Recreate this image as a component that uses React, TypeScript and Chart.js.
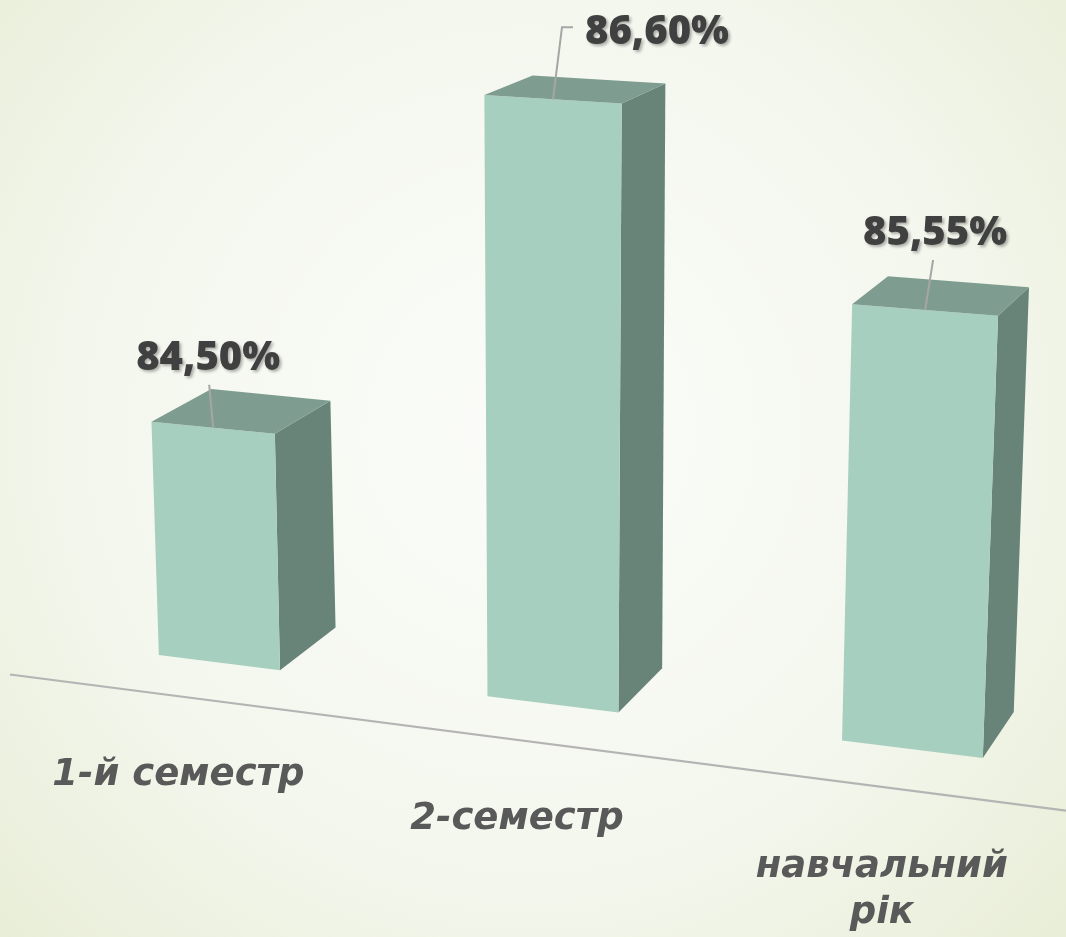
import React, { useEffect, useRef } from "react";
import { Chart, registerables } from "chart.js";

Chart.register(...registerables);

// ---- data ----
const categories: (string | string[])[] = ["1-й семестр", "2-семестр", ["навчальний", "рік"]];
const values: number[] = [84.5, 86.6, 85.55];
const valueLabels: string[] = ["84,50%", "86,60%", "85,55%"];
const Y_MIN = 83.09;
const Y_MAX = 88.526;

// ---- layout / style ----
const W = 1066;
const H = 937;
const FRONT = "#a7cfbf";
const SIDE = "#688478";
const TOP = "#7e9d90";
// label offset relative to the front-top-centre of each bar
const labelOffsets: [number, number][] = [
  [-5, -69],
  [104, -67],
  [10, -76],
];

// pseudo-perspective projection parameters
const PR = {
  X0: 32.75,
  SPAN: 1039.5,
  CX: 552.5,
  Q: 1.08e-4,
  HS: 1e-4,
  LEAN: 8e-5,
  BASE_Y: 655,
  BASE_X: 158,
  SLOPE: 0.125,
  DX0: 46,
  DXK: 0.035,
  DY0: -44,
  DYK: 0.005,
  DYH: 0.04,
};

function project(xf: number, h0: number, depth: number): [number, number] {
  const u = xf + PR.Q * (xf - PR.CX) * (xf - PR.CX);
  const h = h0 * (1 + PR.HS * (u - PR.CX));
  let x = u + h * PR.LEAN * (u - PR.CX);
  let y = PR.BASE_Y + PR.SLOPE * (u - PR.BASE_X) - h;
  if (depth) {
    x += PR.DX0 - PR.DXK * (u - PR.CX);
    y += PR.DY0 - PR.DYK * (u - PR.CX) + PR.DYH * h;
  }
  return [x, y];
}

function floorY(u: number) {
  return PR.BASE_Y + PR.SLOPE * (u - PR.BASE_X) + 38 + 0.004 * (u - 10);
}

function poly(ctx: CanvasRenderingContext2D, pts: [number, number][], color: string) {
  ctx.beginPath();
  ctx.moveTo(pts[0][0], pts[0][1]);
  for (let i = 1; i < pts.length; i++) ctx.lineTo(pts[i][0], pts[i][1]);
  ctx.closePath();
  ctx.fillStyle = color;
  ctx.fill();
}

const backgroundPlugin = {
  id: "bg",
  beforeDraw(chart: any) {
    const ctx: CanvasRenderingContext2D = chart.ctx;
    ctx.save();
    const g = ctx.createRadialGradient(530, 430, 0, 530, 430, 780);
    g.addColorStop(0, "#fbfcf9");
    g.addColorStop(0.55, "#f4f7ee");
    g.addColorStop(1, "#e7ecd4");
    ctx.fillStyle = g;
    ctx.fillRect(0, 0, chart.width, chart.height);
    // floor front edge
    ctx.strokeStyle = "#b4b4b4";
    ctx.lineWidth = 2.2;
    ctx.beginPath();
    ctx.moveTo(10, floorY(10));
    ctx.lineTo(chart.width, floorY(chart.width));
    ctx.stroke();
    ctx.restore();
  },
};

const bars3dPlugin = {
  id: "bars3d",
  afterDatasetsDraw(chart: any) {
    const ctx: CanvasRenderingContext2D = chart.ctx;
    const area = chart.chartArea;
    const sx = PR.SPAN / (area.right - area.left);
    const sh = H / (area.bottom - area.top);
    const meta = chart.getDatasetMeta(0);
    ctx.save();
    meta.data.forEach((el: any, i: number) => {
      const p = el.getProps(["x", "y", "base", "width"], true);
      const xc = PR.X0 + (p.x - area.left) * sx;
      const hw = (p.width * sx) / 2;
      const h0 = (p.base - p.y) * sh;
      const fl = xc - hw;
      const fr = xc + hw;
      const FBL = project(fl, 0, 0);
      const FBR = project(fr, 0, 0);
      const FTL = project(fl, h0, 0);
      const FTR = project(fr, h0, 0);
      const BTL = project(fl, h0, 1);
      const BTR = project(fr, h0, 1);
      const BBR = project(fr, 0, 1);
      poly(ctx, [FBR, FTR, BTR, BBR], SIDE);
      poly(ctx, [FBL, FBR, FTR, FTL], FRONT);
      poly(ctx, [FTL, FTR, BTR, BTL], TOP);

      // value label + leader line
      const anchor: [number, number] = [(FTL[0] + FTR[0]) / 2, (FTL[1] + FTR[1]) / 2];
      const off = labelOffsets[i];
      const lc: [number, number] = [anchor[0] + off[0], anchor[1] + off[1]];
      ctx.font = "800 40px 'Open Sans'";
      const tw = ctx.measureText(valueLabels[i]).width;
      ctx.strokeStyle = "#a6a6a6";
      ctx.lineWidth = 2;
      ctx.beginPath();
      ctx.moveTo(anchor[0], anchor[1]);
      if (Math.abs(off[0]) > 50) {
        const endX = lc[0] - tw / 2 - 12;
        const endY = lc[1] - 5;
        ctx.lineTo(endX - 11, endY);
        ctx.lineTo(endX, endY);
      } else {
        ctx.lineTo(lc[0] + (anchor[0] - lc[0]) * 0.2, lc[1] + 26);
      }
      ctx.stroke();

      ctx.save();
      ctx.shadowColor = "rgba(0,0,0,0.3)";
      ctx.shadowOffsetX = 2;
      ctx.shadowOffsetY = 2;
      ctx.shadowBlur = 3;
      ctx.fillStyle = "#404040";
      ctx.textAlign = "center";
      ctx.textBaseline = "middle";
      ctx.fillText(valueLabels[i], lc[0], lc[1]);
      ctx.restore();

      // category label
      const bc: [number, number] = [(FBL[0] + FBR[0]) / 2, (FBL[1] + FBR[1]) / 2];
      const lines = Array.isArray(categories[i]) ? (categories[i] as string[]) : [categories[i] as string];
      ctx.font = "italic bold 37px 'DejaVu Sans'";
      ctx.fillStyle = "#595959";
      ctx.textAlign = "center";
      ctx.textBaseline = "alphabetic";
      const cx = bc[0] - 41 + 0.015 * (bc[0] - 219);
      const cy = bc[1] + 122 + 0.008 * (bc[0] - 219);
      lines.forEach((t, j) => ctx.fillText(t, cx, cy + j * 46));
    });
    ctx.restore();
  },
};

export default function App() {
  const ref = useRef<HTMLCanvasElement | null>(null);
  useEffect(() => {
    if (!ref.current) return;
    const chart = new Chart(ref.current, {
      type: "bar",
      data: {
        labels: categories as any,
        datasets: [
          {
            data: values,
            base: Y_MIN,
            backgroundColor: "rgba(0,0,0,0)",
            borderWidth: 0,
            categoryPercentage: 0.378,
            barPercentage: 1,
          } as any,
        ],
      },
      options: {
        animation: false,
        responsive: false,
        maintainAspectRatio: false,
        layout: { padding: 0 },
        events: [],
        plugins: { legend: { display: false }, tooltip: { enabled: false } },
        scales: {
          x: { display: false },
          y: { display: false, min: Y_MIN, max: Y_MAX },
        },
      },
      plugins: [backgroundPlugin, bars3dPlugin],
    });
    return () => chart.destroy();
  }, []);
  return (
    <div style={{ position: "absolute", left: 0, top: 0, width: W, height: H, overflow: "hidden" }}>
      <canvas ref={ref} width={W} height={H} style={{ display: "block", width: W, height: H }} />
    </div>
  );
}
